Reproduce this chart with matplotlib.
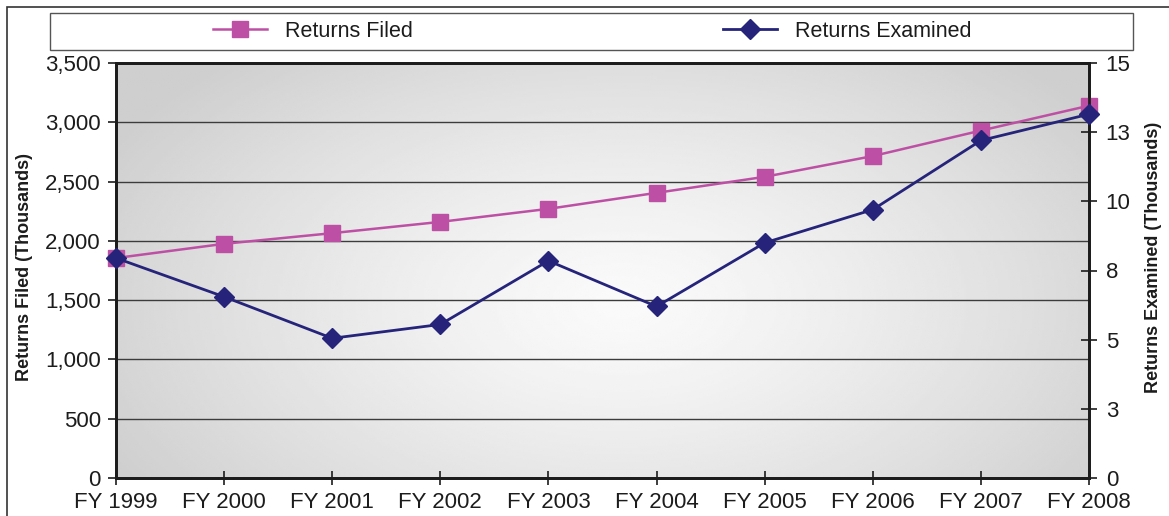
import numpy as np
import matplotlib.pyplot as plt
from matplotlib.patches import Rectangle
from matplotlib.ticker import FuncFormatter

plt.rcParams['font.family'] = ['Liberation Sans', 'DejaVu Sans']

years = ["FY 1999", "FY 2000", "FY 2001", "FY 2002", "FY 2003",
         "FY 2004", "FY 2005", "FY 2006", "FY 2007", "FY 2008"]
returns_filed = [1855, 1975, 2065, 2160, 2270, 2405, 2540, 2715, 2930, 3140]
returns_examined = [7.95, 6.55, 5.05, 5.55, 7.85, 6.2, 8.5, 9.7, 12.2, 13.15]

filed_ticks = [0, 500, 1000, 1500, 2000, 2500, 3000, 3500]
examined_ticks = [0, 2.5, 5, 7.5, 10, 12.5, 15]
examined_tick_labels = ["0", "3", "5", "8", "10", "13", "15"]

PINK = "#BD50A4"
NAVY = "#25247A"
DARK = "#1c1c1c"

W, H = 1169, 516
fig = plt.figure(figsize=(W / 100, H / 100), dpi=100)

# outer chart border
fig.add_artist(Rectangle((7 / W, -0.05), 1.1, 1 - 7 / H + 0.05,
                         transform=fig.transFigure, fill=False,
                         ec="#333333", lw=1.2))
# legend box
fig.add_artist(Rectangle((50 / W, 1 - 50 / H), 1083 / W, 37 / H,
                         transform=fig.transFigure, fill=False,
                         ec="#555555", lw=1.0))

ax = fig.add_axes([116 / W, 1 - 478 / H, 973 / W, 415 / H])

# soft radial shading behind the plot
gx, gy = np.meshgrid(np.linspace(0, 1, 400), np.linspace(0, 1, 200))
r = np.sqrt(((gx - 0.52) / 0.6) ** 2 + ((gy - 0.42) / 0.8) ** 2)
shade = 0.98 - 0.17 * np.clip(r, 0, 1) ** 1.3
ax.imshow(shade, cmap="gray", vmin=0, vmax=1, extent=[0, 1, 0, 1],
          transform=ax.transAxes, aspect="auto", origin="lower",
          interpolation="bilinear", zorder=0)

x = np.arange(len(years))
l1, = ax.plot(x, returns_filed, color=PINK, marker="s", ms=11, lw=1.8,
              clip_on=False, zorder=3, label="Returns Filed")
ax.set_xlim(0, len(years) - 1)
ax.set_ylim(0, 3500)
ax.set_yticks(filed_ticks)
ax.yaxis.set_major_formatter(FuncFormatter(lambda v, p: f"{v:,.0f}"))
ax.set_xticks(x, years)
ax.grid(axis="y", color="#3c3c3c", lw=1.0, zorder=1)
ax.tick_params(axis="x", direction="inout", length=10, width=1.2,
               labelsize=16, pad=5, colors=DARK)
ax.tick_params(axis="y", direction="out", length=6, width=1.2,
               labelsize=16, pad=5, colors=DARK)

ax2 = ax.twinx()
l2, = ax2.plot(x, returns_examined, color=NAVY, marker="D", ms=10, lw=2,
               clip_on=False, zorder=3, label="Returns Examined")
ax2.set_ylim(0, 15)
ax2.set_yticks(examined_ticks, examined_tick_labels)
ax2.tick_params(axis="y", direction="inout", length=12, width=1.2,
                labelsize=16, pad=6, colors=DARK)

for a in (ax, ax2):
    for s in a.spines.values():
        s.set_linewidth(2)
        s.set_color(DARK)

fig.text(25 / W, 1 - 267 / H, "Returns Filed (Thousands)", rotation=90,
         ha="center", va="center", fontsize=13, fontweight="bold", color=DARK)
fig.text(1153 / W, 1 - 257 / H, "Returns Examined (Thousands)", rotation=90,
         ha="center", va="center", fontsize=13, fontweight="bold", color=DARK)

fig.legend([l1, l2], ["Returns Filed", "Returns Examined"], loc="center",
           bbox_to_anchor=(592 / W, 1 - 31.5 / H), ncol=2, frameon=False,
           fontsize=15.5, handlelength=2.5, handletextpad=0.85,
           columnspacing=14.4, labelcolor=DARK)

fig.savefig("out.png", dpi=100)
